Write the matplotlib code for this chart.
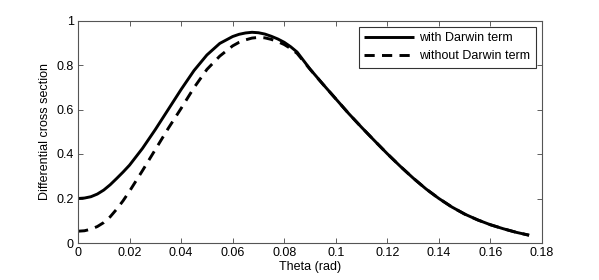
import matplotlib
matplotlib.use("Agg")
import matplotlib.pyplot as plt
from matplotlib.ticker import FuncFormatter

plt.rcParams['font.family'] = ['Liberation Sans', 'DejaVu Sans']

theta = [0.000, 0.0025, 0.005, 0.0075, 0.010, 0.0125, 0.015, 0.0175, 0.020, 0.025,
         0.030, 0.035, 0.040, 0.045, 0.050, 0.055, 0.060, 0.0625, 0.065, 0.0675,
         0.070, 0.0725, 0.075, 0.0775, 0.080, 0.0825, 0.085, 0.090,
         0.095, 0.100, 0.105, 0.110, 0.115, 0.120, 0.125, 0.130, 0.135, 0.140,
         0.145, 0.150, 0.155, 0.160, 0.165, 0.170, 0.175]

with_darwin = [0.200, 0.202, 0.208, 0.220, 0.238, 0.262, 0.290, 0.319, 0.350, 0.425,
               0.510, 0.600, 0.690, 0.775, 0.845, 0.897, 0.928, 0.938, 0.944, 0.947,
               0.945, 0.939, 0.929, 0.917, 0.902, 0.882, 0.858, 0.782,
               0.714, 0.648, 0.582, 0.520, 0.460, 0.401, 0.345, 0.292, 0.243, 0.200,
               0.162, 0.130, 0.104, 0.082, 0.064, 0.048, 0.035]

theta_nd = [0.000, 0.0025, 0.005, 0.0075, 0.010, 0.0125, 0.015, 0.0175, 0.020, 0.025,
            0.030, 0.035, 0.040, 0.045, 0.050, 0.055, 0.060, 0.0625, 0.065, 0.0675,
            0.070, 0.0725, 0.075, 0.0775, 0.080, 0.0825, 0.085, 0.090,
            0.095, 0.100, 0.105, 0.110, 0.115, 0.120, 0.125, 0.130, 0.135, 0.140,
            0.145, 0.150, 0.155, 0.160, 0.165, 0.170, 0.175]

without_darwin = [0.053, 0.055, 0.062, 0.074, 0.092, 0.118, 0.152, 0.190, 0.233, 0.325,
                  0.420, 0.515, 0.605, 0.698, 0.780, 0.840, 0.886, 0.902, 0.913, 0.921,
                  0.924, 0.922, 0.915, 0.905, 0.892, 0.874, 0.852, 0.781,
                  0.714, 0.648, 0.582, 0.520, 0.460, 0.401, 0.345, 0.292, 0.243, 0.200,
                  0.162, 0.130, 0.104, 0.082, 0.064, 0.048, 0.035]

xticks = [0, 0.02, 0.04, 0.06, 0.08, 0.1, 0.12, 0.14, 0.16, 0.18]
yticks = [0, 0.2, 0.4, 0.6, 0.8, 1]

fig = plt.figure(figsize=(5.99, 2.80), dpi=100)
ax = fig.add_axes([78/599, 37/280, (542-78)/599, (243-20.5)/280])

ax.plot(theta, with_darwin, color='black', lw=2.1, solid_capstyle='butt',
        solid_joinstyle='round', label='with Darwin term')
ax.plot(theta_nd, without_darwin, color='black', lw=2.1, linestyle=(0, (3.5, 2.5)),
        dash_capstyle='butt', label='without Darwin term')

ax.set_xlim(0, 0.18)
ax.set_ylim(0, 1)
ax.set_xticks(xticks)
ax.set_yticks(yticks)
fmt = FuncFormatter(lambda v, p: ('%g' % round(v, 4)))
ax.xaxis.set_major_formatter(fmt)
ax.yaxis.set_major_formatter(fmt)
ax.tick_params(direction='in', top=True, right=True, length=3.5, width=0.6,
               labelsize=9, colors='#444444', labelcolor='black', pad=3)
for s in ax.spines.values():
    s.set_color('#555555')
    s.set_linewidth(0.8)

ax.set_xlabel('Theta (rad)', fontsize=9, labelpad=1)
ax.set_ylabel('Differential cross section', fontsize=9, labelpad=4)

leg = ax.legend(loc='upper right', fontsize=9, frameon=True, fancybox=False,
                edgecolor='black', borderaxespad=0.5, handlelength=4.0,
                handletextpad=0.4, borderpad=0.45, labelspacing=0.45)
leg.get_frame().set_linewidth(0.8)

fig.savefig('out.png', dpi=100)
